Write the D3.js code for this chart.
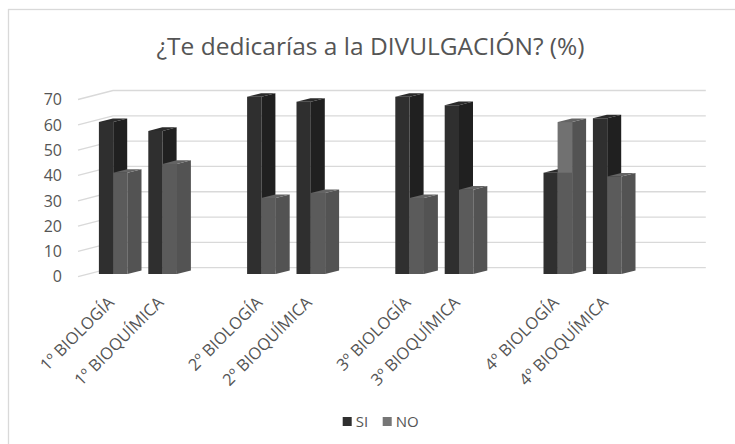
<!DOCTYPE html>
<html>
  <head>
    <meta charset="utf-8">
    <title>DIVULGACIÓN</title>
    <script src="https://cdn.jsdelivr.net/npm/d3@7"></script>
	<style>
		body { margin:0; background:#fff; }
		text { font-family:"Open Sans", sans-serif; fill:#555555; }
	</style>
  </head>
  <body>
	<svg></svg>
    <script>
	// blank slots are the empty rows between the courses
	var categories = ["1º BIOLOGÍA", "1º BIOQUÍMICA", "", "2º BIOLOGÍA", "2º BIOQUÍMICA", "",
	                  "3º BIOLOGÍA", "3º BIOQUÍMICA", "", "4º BIOLOGÍA", "4º BIOQUÍMICA", ""];
	var si = [60, 56.5, null, 70, 68, null, 70, 66.7, null, 40, 61.5, null];
	var no = [40, 43.5, null, 30, 32, null, 30, 33.3, null, 60, 38.5, null];
	var series = ["SI", "NO"];
	var yTicks = [0, 10, 20, 30, 40, 50, 60, 70];

	var width = 735, height = 444;
	var svg = d3.select("svg").attr("width", width).attr("height", height);

	// oblique 3d: depth d moves right by d and up by d*slope
	var wallDepth = 35, slope = 9 / 35;
	var barD0 = 10.5, barDepth = 14;

	var x = d3.scaleBand().domain(d3.range(categories.length)).range([78, 670.8]);
	var xs = d3.scaleBand().domain(series).range([0, 28.6]);
	var y = d3.scaleLinear().domain([0, 70]).range([276.7, 99.5]);

	// chart border
	svg.append("rect").attr("x", 8.5).attr("y", 9.5).attr("width", 740).attr("height", 450)
		.attr("fill", "none").attr("stroke", "#d9d9d9").attr("stroke-width", 1.3);

	svg.append("text").attr("x", 370.5).attr("y", 55).attr("text-anchor", "middle")
		.style("font-size", "24.5px").text("¿Te dedicarías a la DIVULGACIÓN? (%)");

	// gridlines: side wall + back wall
	yTicks.forEach(function(t) {
		var yy = y(t);
		svg.append("path")
			.attr("d", "M78," + yy + "L" + (78 + wallDepth) + "," + (yy - wallDepth * slope) + "L" + (x.range()[1] + wallDepth) + "," + (yy - wallDepth * slope))
			.attr("fill", "none").attr("stroke", "#d9d9d9").attr("stroke-width", 1.3);
		svg.append("text").attr("x", 62).attr("y", yy).attr("dy", "0.36em")
			.attr("text-anchor", "end").style("font-size", "16px").text(t);
	});

	var colours = {
		SI: {front: "#2f2f2f", side: "#202020", top: "#2b2b2b"},
		NO: {front: "#5b5b5b", side: "#535353", top: "#646464", light: "#717171"}
	};

	function pts(a) { return a.map(function(p){ return p.join(","); }).join(" "); }

	function addBar(i, s, v, other) {
		var c = colours[s];
		var fl = x(i) + (x.bandwidth() - 28.6) / 2 + xs(s) + barD0;
		var fr = fl + xs.bandwidth();
		var fb = y(0) - barD0 * slope;
		var ft = y(v) - barD0 * slope;
		var dx = barDepth, dy = barDepth * slope;
		svg.append("polygon").attr("points", pts([[fl, fb], [fr, fb], [fr, ft], [fl, ft]])).attr("fill", c.front);
		if (s == "NO" && v > other) {
			var fm = y(other) - barD0 * slope;
			svg.append("polygon").attr("points", pts([[fl, fm], [fr, fm], [fr, ft], [fl, ft]])).attr("fill", c.light);
		}
		svg.append("polygon").attr("points", pts([[fr, fb], [fr + dx, fb - dy], [fr + dx, ft - dy], [fr, ft]])).attr("fill", c.side);
		svg.append("polygon").attr("points", pts([[fl, ft], [fr, ft], [fr + dx, ft - dy], [fl + dx, ft - dy]])).attr("fill", c.top);
	}

	categories.forEach(function(cat, i) {
		if (si[i] == null) return;
		addBar(i, "SI", si[i], no[i]);
		addBar(i, "NO", no[i], si[i]);
		var ax = x(i) + x.bandwidth() / 2 + 12.5, ay = 303.5;
		svg.append("text").attr("transform", "translate(" + ax + "," + ay + ") rotate(-45)")
			.attr("text-anchor", "end").style("font-size", "16.5px").text(cat);
	});

	// legend
	var legX = [342.7, 382.7];
	series.forEach(function(s, k) {
		svg.append("rect").attr("x", legX[k]).attr("y", 417).attr("width", 9).attr("height", 9)
			.attr("fill", s == "SI" ? "#2f2f2f" : "#767676");
		svg.append("text").attr("x", legX[k] + 13).attr("y", 427).style("font-size", "15px").text(s);
	});
    </script>
  </body>
</html>
